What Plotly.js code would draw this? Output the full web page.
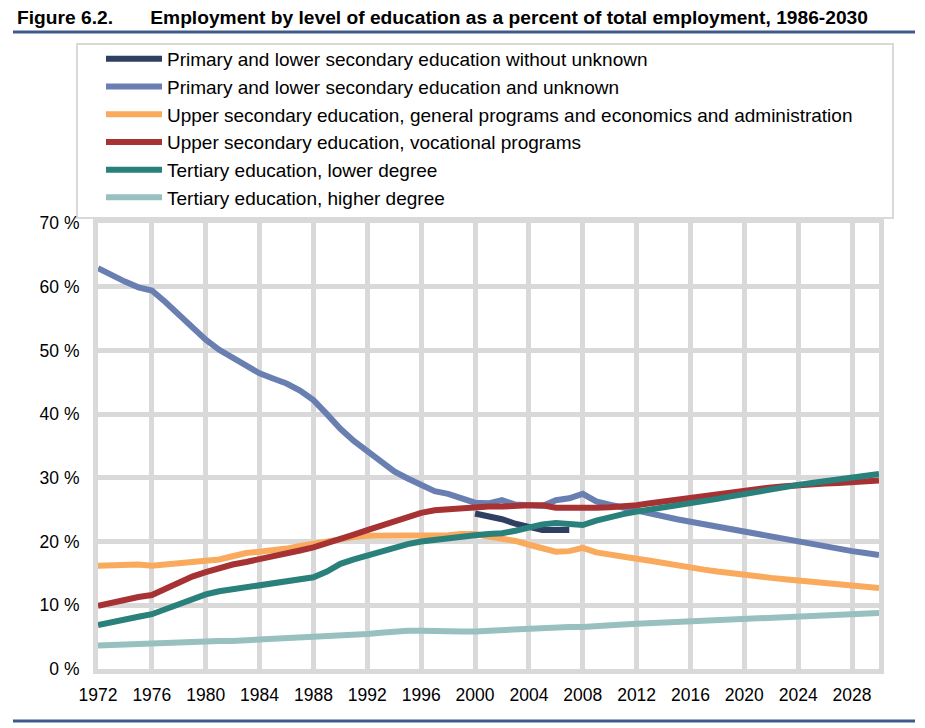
<!DOCTYPE html>
<html>
<head>
<meta charset="utf-8">
<script src="https://cdn.plot.ly/plotly-3.0.1.min.js"></script>
<style>
  html, body { margin: 0; padding: 0; background: #ffffff; }
  #chart { width: 925px; height: 728px; }
</style>
</head>
<body>
<div id="chart"></div>
<script>
// ---- Data (percent of total employment) ----
const years = [1972,1973,1974,1975,1976,1977,1978,1979,1980,1981,1982,1983,1984,1985,1986,1987,1988,1989,1990,1991,1992,1993,1994,1995,1996,1997,1998,1999,2000,2001,2002,2003,2004,2005,2006,2007,2008,2009,2010,2011,2012,2013,2014,2015,2016,2017,2018,2019,2020,2021,2022,2023,2024,2025,2026,2027,2028,2029,2030];

const yearsWithoutUnknown = [2000,2001,2002,2003,2004,2005,2006,2007];
const primaryWithoutUnknown = [24.4,24.0,23.5,22.8,22.2,21.8,21.8,21.8];

const primaryAndUnknown = [62.9,61.8,60.8,59.9,59.4,57.6,55.6,53.6,51.7,50.1,48.9,47.6,46.4,45.6,44.8,43.7,42.2,40.0,37.7,35.8,34.2,32.6,31.0,29.9,28.8,27.9,27.5,26.7,26.1,26.0,26.5,25.8,25.6,25.6,26.5,26.8,27.5,26.3,25.8,25.3,24.8,24.3,23.9,23.5,23.1,22.7,22.3,21.9,21.5,21.1,20.7,20.3,19.9,19.5,19.1,18.8,18.5,18.2,17.9];

const upperGeneral = [16.2,16.3,16.3,16.4,16.2,16.4,16.6,16.8,17.0,17.2,17.7,18.2,18.4,18.6,18.9,19.3,19.7,20.1,20.4,20.7,20.9,20.9,20.8,20.8,20.9,21.0,21.0,21.2,21.2,20.8,20.5,20.1,19.5,18.9,18.4,18.5,19.0,18.3,17.9,17.6,17.3,17.0,16.6,16.2,15.9,15.6,15.3,15.0,14.8,14.5,14.3,14.1,13.9,13.6,13.4,13.2,13.0,12.8,12.7];

const upperVocational = [9.9,10.4,10.9,11.3,11.6,12.6,13.5,14.5,15.2,15.9,16.4,16.8,17.2,17.6,18.1,18.6,19.1,19.7,20.5,21.1,21.8,22.5,23.3,23.9,24.5,24.9,25.1,25.3,25.4,25.5,25.5,25.7,25.7,25.7,25.3,25.3,25.2,25.3,25.4,25.5,25.7,26.0,26.3,26.6,26.9,27.2,27.5,27.8,28.1,28.3,28.5,28.7,28.9,29.0,29.1,29.2,29.3,29.5,29.6];

const tertiaryLower = [6.9,7.4,7.9,8.2,8.6,9.4,10.2,11.0,11.7,12.2,12.5,12.8,13.1,13.4,13.7,14.0,14.4,15.3,16.5,17.2,17.8,18.5,19.1,19.6,20.0,20.3,20.5,20.8,21.0,21.2,21.3,21.7,22.3,22.7,22.9,22.8,22.6,23.3,23.9,24.3,24.7,25.0,25.3,25.6,25.9,26.3,26.7,27.1,27.5,27.9,28.3,28.6,28.9,29.2,29.5,29.8,30.1,30.4,30.6];

const tertiaryHigher = [3.7,3.8,3.8,3.9,3.9,4.0,4.1,4.2,4.3,4.4,4.4,4.5,4.6,4.6,4.7,4.8,4.9,5.1,5.3,5.4,5.5,5.7,5.9,6.0,6.0,5.9,5.9,5.9,5.9,6.0,6.1,6.3,6.5,6.6,6.6,6.6,6.6,6.8,6.9,7.0,7.1,7.2,7.3,7.4,7.5,7.6,7.7,7.8,7.9,8.0,8.1,8.2,8.3,8.4,8.5,8.6,8.7,8.8,8.8];

const seriesNames = [
  "Primary and lower secondary education without unknown",
  "Primary and lower secondary education and unknown",
  "Upper secondary education, general programs and economics and administration",
  "Upper secondary education, vocational programs",
  "Tertiary education, lower degree",
  "Tertiary education, higher degree"
];
const seriesColors = ["#2f3f62","#6a7fb1","#f9aa5c","#a73233","#2a807b","#97c0bf"];

const xTickVals = [1972,1976,1980,1984,1988,1992,1996,2000,2004,2008,2012,2016,2020,2024,2028];
const yTickVals = [0,10,20,30,40,50,60,70];

// ---- Layout geometry (pixels) ----
const W = 925, H = 728;
const L = 98, R = 879, T = 223, B = 669;
const px = v => (v - L) / (R - L);
const py = v => (B - v) / (B - T);

const xs = [yearsWithoutUnknown, years, years, years, years, years];
const ys = [primaryWithoutUnknown, primaryAndUnknown, upperGeneral, upperVocational, tertiaryLower, tertiaryHigher];

const traces = ys.map((y, i) => ({
  type: 'scatter',
  mode: 'lines',
  x: xs[i],
  y: y,
  name: seriesNames[i],
  legendgroup: 'g' + i,
  line: { color: seriesColors[i], width: 6, shape: 'linear' },
  hoverinfo: 'x+y+name'
}));

const font = "Arial, 'Liberation Sans', sans-serif";

const layout = {
  width: W, height: H,
  margin: { l: L, r: W - R, t: T, b: H - B, pad: 0 },
  paper_bgcolor: '#ffffff',
  plot_bgcolor: '#ffffff',
  showlegend: true,
  font: { family: font, size: 17.5, color: '#000000' },
  title: {
    text: 'Figure 6.2.&nbsp;&nbsp;&nbsp;&nbsp;&nbsp;&nbsp;&nbsp;Employment by level of education as a percent of total employment, 1986-2030',
    font: { family: font, size: 19.2, color: '#000000', weight: 'bold' },
    xref: 'container', yref: 'container',
    x: 17 / W, xanchor: 'left',
    y: 1 - 17 / H, yanchor: 'middle'
  },
  xaxis: {
    range: [1972, 2030],
    tickmode: 'array',
    tickvals: xTickVals,
    ticktext: xTickVals.map(String),
    showgrid: true, gridcolor: '#d9d9d9', gridwidth: 5,
    showline: true, linecolor: '#d9d9d9', linewidth: 5, mirror: true,
    zeroline: false,
    ticks: '',
    ticklabelstandoff: 6,
    tickfont: { family: font, size: 17.5, color: '#000000' },
    fixedrange: true
  },
  yaxis: {
    range: [0, 70],
    tickmode: 'array',
    tickvals: yTickVals,
    ticktext: yTickVals.map(v => v + ' %'),
    showgrid: true, gridcolor: '#d9d9d9', gridwidth: 5,
    showline: true, linecolor: '#d9d9d9', linewidth: 5, mirror: true,
    zeroline: false,
    ticks: '',
    ticklabelstandoff: 10,
    tickfont: { family: font, size: 17.5, color: '#000000' },
    fixedrange: true
  },
  legend: {
    x: px(101), y: py(40),
    xanchor: 'left', yanchor: 'top',
    bgcolor: 'rgba(0,0,0,0)',
    borderwidth: 0,
    font: { family: font, size: 19, color: '#000000' },
    itemwidth: 56,
    tracegroupgap: 3,
    traceorder: 'normal'
  },
  shapes: [
    // legend box
    { type: 'rect', xref: 'paper', yref: 'paper', layer: 'below',
      x0: px(77), x1: px(893), y0: py(218), y1: py(44),
      line: { color: '#d9d9d9', width: 2 }, fillcolor: '#ffffff' },
    // top rule
    { type: 'line', xref: 'paper', yref: 'paper',
      x0: px(13), x1: px(915), y0: py(32), y1: py(32),
      line: { color: '#3f5a8a', width: 3 } },
    // bottom rule
    { type: 'line', xref: 'paper', yref: 'paper',
      x0: px(13), x1: px(915), y0: py(721), y1: py(721),
      line: { color: '#3f5a8a', width: 3 } }
  ]
};

Plotly.newPlot('chart', traces, layout, { displayModeBar: false, staticPlot: false, responsive: false });
</script>
</body>
</html>
